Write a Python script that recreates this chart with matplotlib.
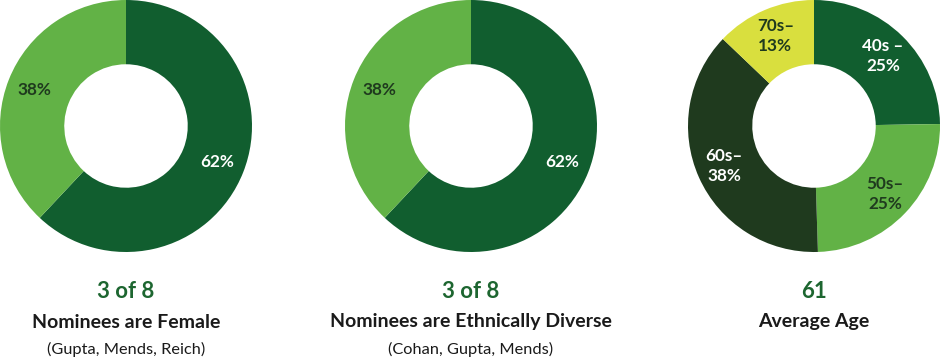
import numpy as np
import matplotlib
matplotlib.use("Agg")
import matplotlib.pyplot as plt

# ---- data ----
female_labels = ["62%", "38%"]
female_values = [62, 38]
diverse_labels = ["62%", "38%"]
diverse_values = [62, 38]
age_labels = ["40s –\n25%", "50s–\n25%", "60s–\n38%", "70s–\n13%"]
age_values = [25, 25, 38, 13]

headlines = ["3 of 8", "3 of 8", "61"]
subtitles = ["Nominees are Female", "Nominees are Ethnically Diverse", "Average Age"]
notes = ["(Gupta, Mends, Reich)", "(Cohan, Gupta, Mends)", ""]

DARK = "#115E2F"
LIGHT = "#62B246"
DARKEST = "#1F3A1E"
YELLOW = "#D9DF3E"
TXT_DARK = "#1F3A1E"
HEAD_GREEN = "#1D6630"

charts = [
    (female_values, female_labels, [DARK, LIGHT], ["white", TXT_DARK]),
    (diverse_values, diverse_labels, [DARK, LIGHT], ["white", TXT_DARK]),
    (age_values, age_labels, [DARK, LIGHT, DARKEST, YELLOW], ["white", TXT_DARK, "white", TXT_DARK]),
]
centers_px = [126, 471, 814]

W, H = 942, 360
fig = plt.figure(figsize=(W / 100, H / 100), dpi=100)
fig.patch.set_facecolor("white")

FONT = "Lato"
R_PX = 126
for (vals, labs, cols, tcols), cx, head, sub, note in zip(charts, centers_px, headlines, subtitles, notes):
    ax = fig.add_axes([(cx - R_PX) / W, (H - 2 * R_PX) / H, 2 * R_PX / W, 2 * R_PX / H])
    wedges, _ = ax.pie(vals, colors=cols, startangle=90, counterclock=False, radius=1.0,
                       wedgeprops=dict(width=0.51, linewidth=0))
    for w, lab, tc in zip(wedges, labs, tcols):
        ang = np.deg2rad((w.theta1 + w.theta2) / 2)
        r = 0.78
        ax.text(r * np.cos(ang), r * np.sin(ang), lab, ha="center", va="center",
                color=tc, fontsize=12.3, fontweight="bold", family=FONT, linespacing=1.3)
    ax.set_xlim(-1, 1)
    ax.set_ylim(-1, 1)
    ax.set_aspect("equal")
    ax.axis("off")

    fx = cx / W
    fig.text(fx, 1 - 291 / H, head, ha="center", va="center", color=HEAD_GREEN,
             fontsize=16, fontweight="bold", family=FONT)
    fig.text(fx, 1 - 322 / H, sub, ha="center", va="center", color="#1a1a1a",
             fontsize=14, fontweight="bold", family=FONT)
    if note:
        fig.text(fx, 1 - 349 / H, note, ha="center", va="center", color="#1a1a1a",
                 fontsize=11.8, family=FONT)

fig.savefig("out.png", dpi=100, facecolor="white")
